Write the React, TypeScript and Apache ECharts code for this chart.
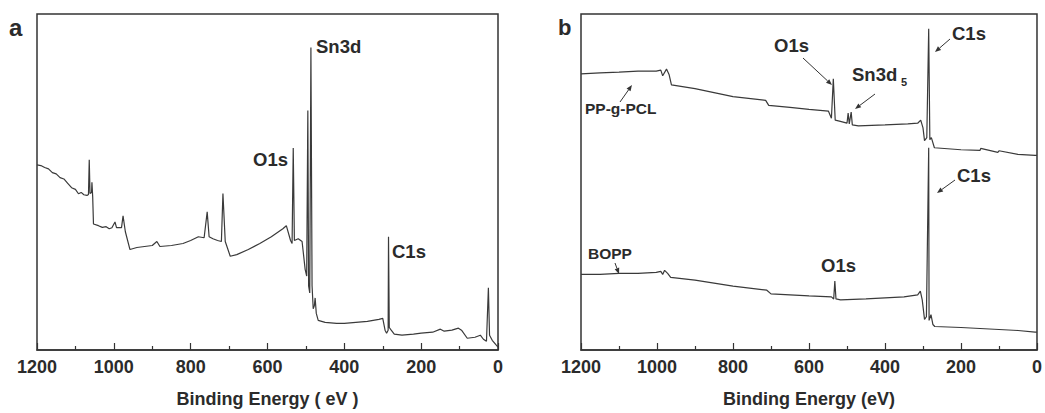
import React, { useEffect, useRef } from "react";
import * as echarts from "echarts";

// Panel a: survey spectrum [binding energy (eV), intensity (a.u.)]
const panelA: [number, number][] = [
  [1200, 55.1], [1190, 54.9], [1180, 54.3], [1170, 53.9], [1160, 52.8], [1150, 52.4], [1140, 51.3], [1130, 50.9],
  [1120, 49.6], [1110, 48.3], [1100, 47.8], [1092, 46.5], [1085, 46.9], [1078, 46.2], [1070, 46.0],
  [1066, 46.3], [1064, 56.6], [1062, 46.6], [1058, 46.9],
  [1057, 49.9], [1055, 45.5], [1053, 37.5], [1040, 37.0], [1030, 36.5], [1020, 36.7], [1012, 36.1], [1005, 36.4],
  [997, 38.1], [993, 36.4], [980, 36.4], [976, 39.9], [970, 35.2], [958, 29.9],
  [940, 30.5], [920, 30.8], [900, 31.1], [888, 32.3], [880, 30.8], [850, 31.1],
  [820, 31.7], [800, 32.6], [780, 33.7], [765, 33.4], [757, 41.1], [752, 33.7],
  [742, 33.1], [730, 32.6], [720, 32.3], [716, 46.6], [710, 32.3], [697, 27.9],
  [680, 28.4], [650, 29.9], [620, 31.7], [590, 33.7], [560, 36.1], [551, 37.0],
  [540, 32.6], [536, 31.7], [533, 60.1], [530, 32.6], [520, 33.1], [510, 32.3],
  [502, 24.0], [498, 22.0], [495, 71.3], [493, 19.1], [490, 17.0], [487, 90.0],
  [484, 19.1], [481, 12.3], [478, 13.2], [476, 15.5], [473, 10.9], [468, 8.8],
  [450, 8.2], [420, 7.9], [400, 7.9], [370, 8.2], [340, 8.5], [310, 9.1],
  [300, 9.4], [294, 5.9], [290, 5.0], [286, 5.9], [285, 33.7], [283, 6.7],
  [278, 5.9], [270, 4.7], [250, 4.4], [220, 4.7], [200, 5.0], [170, 5.3],
  [150, 6.2], [140, 5.6], [120, 5.9], [103, 6.5], [95, 5.9], [80, 3.5],
  [60, 3.8], [46, 4.4], [38, 3.2], [30, 2.6], [25, 18.5], [22, 4.4],
  [15, 2.9], [5, 1.5], [0, 0.9],
];

// Panel b: PP-g-PCL (upper) and BOPP (lower)
const ppgPCL: [number, number][] = [
  [1200, 82.2], [1150, 82.5], [1100, 82.7], [1050, 83.0], [1002, 83.0], [990, 83.3],
  [985, 81.6], [975, 83.6], [968, 81.9], [962, 78.9], [900, 77.8], [850, 76.6],
  [800, 75.4], [714, 74.3], [706, 72.8], [650, 72.2], [600, 71.6], [549, 71.1],
  [541, 69.0], [536, 80.7], [531, 68.4], [520, 68.1], [500, 67.5], [497, 70.5],
  [494, 67.3], [489, 70.8], [486, 67.0], [470, 66.7], [400, 67.0], [340, 67.3],
  [314, 67.5], [306, 68.4], [300, 66.1], [296, 62.3], [290, 63.2], [285, 95.6],
  [282, 62.6], [278, 63.2], [270, 60.2], [200, 59.6], [150, 59.4], [148, 60.0],
  [103, 58.8], [100, 59.3], [50, 58.2], [5, 57.9], [0, 57.9],
];

const bopp: [number, number][] = [
  [1200, 22.5], [1150, 22.5], [1100, 22.8], [1050, 22.8], [1002, 23.1], [990, 23.4],
  [985, 22.5], [980, 23.7], [972, 22.8], [964, 21.6], [900, 20.8], [850, 19.9],
  [800, 19.0], [711, 17.8], [700, 16.7], [650, 16.4], [600, 16.1], [541, 15.8],
  [535, 15.2], [532, 20.5], [529, 15.2], [517, 14.9], [450, 15.2], [400, 15.5],
  [350, 15.8], [314, 16.4], [307, 17.5], [302, 14.9], [296, 9.1], [291, 9.9],
  [285, 60.2], [284, 8.8], [279, 10.5], [274, 7.6], [269, 7.0], [200, 6.7],
  [150, 6.4], [100, 6.1], [50, 5.8], [5, 5.3], [0, 5.3],
];

const FONT = "'Liberation Sans', Arial, sans-serif";
const INK = "#2b2b2b";

function label(text: string, x: number, y: number, size = 18.5) {
  return {
    type: "text",
    x,
    y,
    style: { text, fontSize: size, fontWeight: "bold", fontFamily: FONT, fill: INK, verticalAlign: "middle", align: "left" },
  };
}

function arrow(x1: number, y1: number, x2: number, y2: number) {
  const dx = x2 - x1;
  const dy = y2 - y1;
  const len = Math.hypot(dx, dy);
  const ux = dx / len;
  const uy = dy / len;
  const hl = 6;
  const hw = 2.4;
  const bx = x2 - ux * hl;
  const by = y2 - uy * hl;
  const px = -uy;
  const py = ux;
  return [
    { type: "line", shape: { x1, y1, x2: bx, y2: by }, style: { stroke: "#333", lineWidth: 1 } },
    {
      type: "polygon",
      shape: { points: [[x2, y2], [bx + px * hw, by + py * hw], [bx - px * hw, by - py * hw]] },
      style: { fill: "#333" },
    },
  ];
}

function xAxisCfg(gridIndex: number, name: string) {
  return {
    gridIndex,
    type: "value",
    inverse: true,
    min: 0,
    max: 1200,
    interval: 200,
    axisLine: { show: true, lineStyle: { color: "#333", width: 1.5 } },
    axisTick: { show: true, inside: true, length: 7, lineStyle: { color: "#333", width: 1.2 } },
    minorTick: { show: true, splitNumber: 2, length: 4, lineStyle: { color: "#333", width: 1.2 } },
    splitLine: { show: false },
    minorSplitLine: { show: false },
    axisLabel: {
      fontSize: 18,
      fontWeight: "bold",
      color: INK,
      fontFamily: FONT,
      margin: 8,
      showMinLabel: true,
      showMaxLabel: true,
      formatter: (v: number) => String(v),
    },
    name,
    nameLocation: "middle",
    nameGap: 40,
    nameTextStyle: { fontSize: 18, fontWeight: "bold", color: INK, fontFamily: FONT },
  };
}

function yAxisCfg(gridIndex: number) {
  return { gridIndex, type: "value", min: 0, max: 100, show: false };
}

export default function App() {
  const ref = useRef<HTMLDivElement>(null);

  useEffect(() => {
    document.body.style.margin = "0";
    if (!ref.current) return;
    const chart = echarts.init(ref.current, null, { renderer: "svg" });
    const lineStyle = { color: "#3a3a3a", width: 1.2 };
    chart.setOption({
      animation: false,
      backgroundColor: "#ffffff",
      grid: [
        { left: 37, top: 14, width: 461, height: 341, show: true, borderColor: "#333", borderWidth: 1.5 },
        { left: 581, top: 14, width: 459, height: 342, show: true, borderColor: "#333", borderWidth: 1.5 },
      ],
      xAxis: [xAxisCfg(0, "Binding Energy ( eV )"), xAxisCfg(1, "Binding Energy (eV)")],
      yAxis: [yAxisCfg(0), yAxisCfg(1)],
      series: [
        { type: "line", xAxisIndex: 0, yAxisIndex: 0, data: panelA, showSymbol: false, symbol: "none", lineStyle },
        { type: "line", xAxisIndex: 1, yAxisIndex: 1, data: ppgPCL, showSymbol: false, symbol: "none", lineStyle },
        { type: "line", xAxisIndex: 1, yAxisIndex: 1, data: bopp, showSymbol: false, symbol: "none", lineStyle },
      ],
      graphic: [
        label("a", 9, 27, 24),
        label("b", 558, 27, 22),
        label("Sn3d", 316, 46),
        label("O1s", 253, 159),
        label("C1s", 392, 251),
        label("O1s", 774, 45),
        label("Sn3d", 852, 74),
        label("5", 901, 82, 11),
        label("C1s", 952, 33),
        label("C1s", 957, 175),
        label("PP-g-PCL", 585, 108, 15.5),
        label("BOPP", 588, 253, 15.5),
        label("O1s", 821, 265),
        ...arrow(803, 58, 832, 85),
        ...arrow(875, 94, 855, 109),
        ...arrow(950, 39, 935, 52),
        ...arrow(955, 180, 937, 193),
        ...arrow(620, 102, 632, 85),
        ...arrow(615, 263, 619, 274),
      ],
    });
    return () => chart.dispose();
  }, []);

  return <div ref={ref} style={{ width: 1045, height: 413 }} />;
}
